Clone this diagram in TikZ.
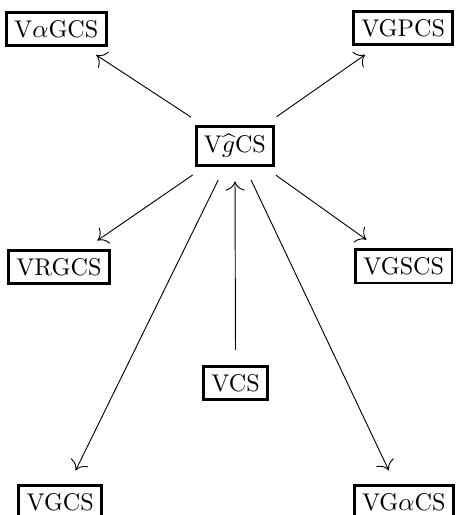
\documentclass[tikz,border=0pt]{standalone}
\usepackage{amsmath,amssymb}
\usepackage{tikz}
\usetikzlibrary{calc,arrows.meta}
\tikzset{space/.style={draw, line width=1.2pt, inner sep=3.4pt,
    font=\fontsize{10.5}{12}\selectfont},
  link/.style={thin, -{To[scale=1.6]}, shorten >=6.5pt, shorten <=6.5pt}}

\begin{document}
\begin{tikzpicture}

    % Frame of the page
    \useasboundingbox (0,0) rectangle (6.97,7.87);

    % Nodes: top row
    \node[space] (vagcs) at (0.86,7.43) {V$\alpha$GCS};
    \node[space] (vgpcs) at (6.16,7.44) {VGPCS};

    % Node: centre
    \node[space] (vgcs-hat) at (3.59,5.64) {V$\widehat{g}$CS};

    % Nodes: middle row
    \node[space] (vrgcs) at (0.90,3.79) {VRGCS};
    \node[space] (vgscs) at (6.17,3.80) {VGSCS};

    % Node: below the centre
    \node[space] (vcs) at (3.60,2.02) {VCS};

    % Nodes: bottom row
    \node[space] (vgcs) at (0.92,0.20) {VGCS};
    \node[space] (vgacs) at (6.17,0.20) {VG$\alpha$CS};

    % Arrows out of the centre
    \draw[link] (vgcs-hat) -- (vagcs);
    \draw[link] (vgcs-hat) -- (vgpcs);
    \draw[link] (vgcs-hat) -- (vrgcs);
    \draw[link] (vgcs-hat) -- (vgscs);
    \draw[link] (vgcs-hat) -- (vgcs);
    \draw[link] (vgcs-hat) -- (vgacs);

    % Arrow into the centre
    \draw[link] (vcs) -- (vgcs-hat);

\end{tikzpicture}
\end{document}
